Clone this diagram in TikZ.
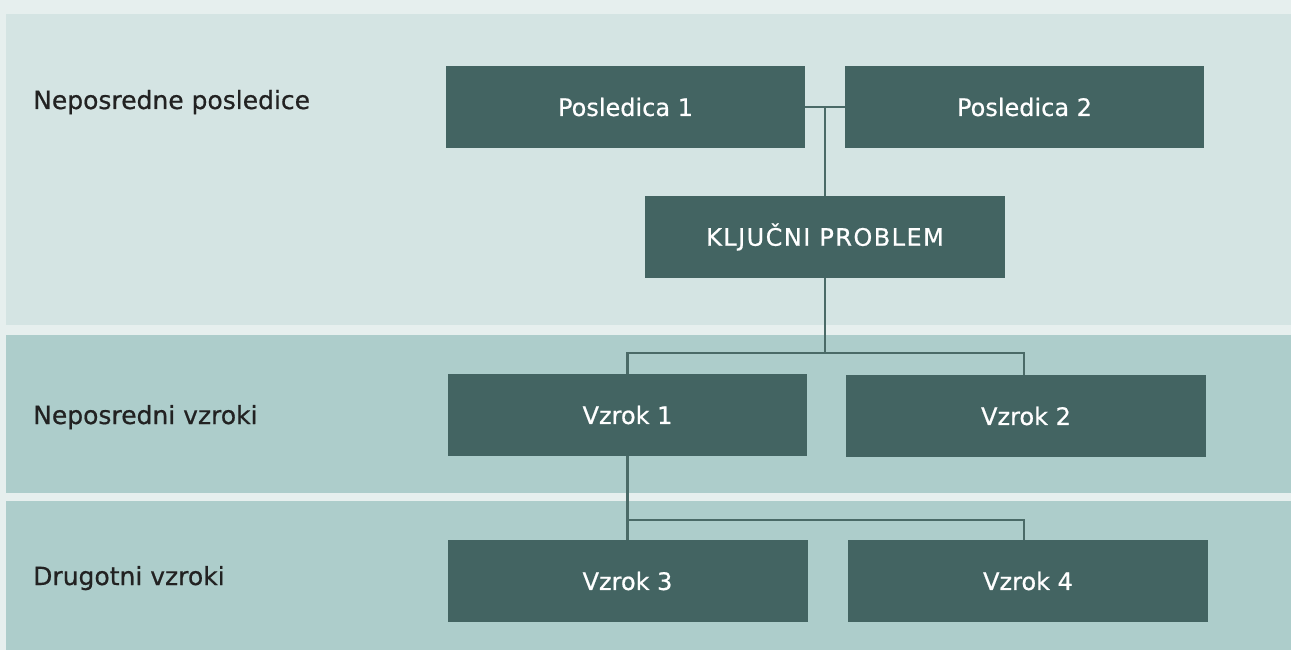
\documentclass[tikz,border=0pt]{standalone}
\usepackage{fontspec}
\setmainfont{DejaVu Sans}[FakeBold=0.6]
\definecolor{pagebg}{HTML}{E6EFEE}
\definecolor{bandlight}{HTML}{D4E4E3}
\definecolor{banddark}{HTML}{ADCDCB}
\definecolor{boxfill}{HTML}{436462}
\definecolor{linkcol}{HTML}{4A6A67}
\definecolor{labeltext}{HTML}{222222}
\begin{document}
\begin{tikzpicture}[x=1pt,y=-1pt,
  stepbox/.style={fill=boxfill, text=white, inner sep=0pt,
    minimum width=359pt, minimum height=82pt, font=\fontsize{24}{27}\selectfont},
  rowlabel/.style={anchor=base west, inner sep=0pt, text=labeltext,
    font=\fontsize{25}{28}\selectfont},
  link/.style={draw=linkcol, line width=2.8pt}]
  % page and horizontal bands
  \fill[pagebg] (0,0) rectangle (1291,650);
  \useasboundingbox (0,0) rectangle (1291,650);
  \fill[bandlight] (6,14) rectangle (1291,325);
  \fill[banddark] (6,335) rectangle (1291,493);
  \fill[banddark] (6,501) rectangle (1291,650);

  % row labels
  \node[rowlabel] (l1) at (33,109) {Neposredne posledice};
  \node[rowlabel] (l2) at (33,424) {Neposredni vzroki};
  \node[rowlabel] (l3) at (33,585) {Drugotni vzroki};

  % boxes
  \node[stepbox] (p1) at (625.5,107) {Posledica 1};
  \node[stepbox] (p2) at (1024.5,107) {Posledica 2};
  \node[stepbox, minimum width=360pt] (k) at (825,237)
    {\addfontfeatures{LetterSpace=6}KLJUČNI PROBLEM};
  \node[stepbox] (v1) at (627.5,415) {Vzrok 1};
  \node[stepbox, minimum width=360pt] (v2) at (1026,416) {Vzrok 2};
  \node[stepbox, minimum width=360pt] (v3) at (627.5,581) {Vzrok 3};
  \node[stepbox, minimum width=360pt] (v4) at (1028,581) {Vzrok 4};

  % connectors
  \draw[link] (p1.east) -- (p2.west);
  \draw[link] (k.north) -- (k.north |- p1.east);
  \coordinate (j1) at (k.south |- 0,353);
  \draw[link] (k.south) -- (j1);
  \draw[link] (v1.north) |- (j1) -| ([xshift=-2pt]v2.north);
  \coordinate (j2) at (v1.south |- 0,520);
  \draw[link] (v1.south) -- (v3.north);
  \draw[link] (j2) -| ([xshift=-4pt]v4.north);
\end{tikzpicture}
\end{document}
